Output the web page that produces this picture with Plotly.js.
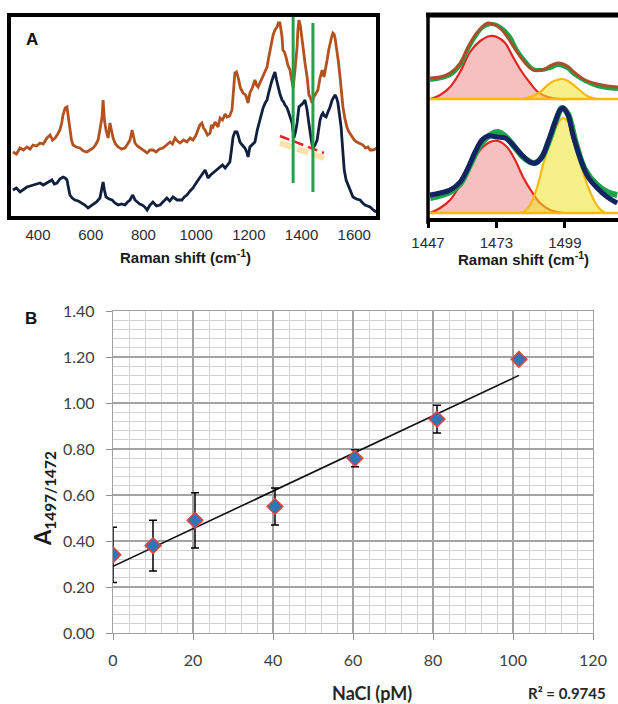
<!DOCTYPE html>
<html>
<head>
<meta charset="utf-8">
<script src="https://cdn.plot.ly/plotly-3.0.1.min.js"></script>
<style>
  html, body { margin: 0; padding: 0; background: #ffffff; }
  #chart { width: 618px; height: 704px; }
</style>
</head>
<body>
<div id="chart"></div>
<script>
// ---------------- DATA ----------------
// Panel A (left): Raman spectra, x = Raman shift (cm-1), y = intensity (a.u.)
const specTopX = [305,318,332,345,358,370,381,395,408,420,434,446,455,465,475,483,490,495,503,510,515,521,527,533,545,559,572,586,597,609,618,628,636,643,647,652,658,662,666,673,678,685,694,704,717,730,740,749,757,762,768,777,787,800,814,825,836,848,861,874,888,901,910,920,929,939,952,965,977,988,998,1007,1014,1022,1028,1034,1043,1053,1058,1064,1072,1083,1091,1100,1110,1117,1127,1136,1141,1147,1153,1159,1168,1178,1188,1197,1204,1213,1223,1229,1235,1244,1254,1262,1269,1275,1280,1286,1292,1299,1307,1312,1318,1322,1326,1329,1335,1341,1348,1356,1364,1368,1375,1383,1386,1390,1395,1402,1408,1413,1421,1428,1434,1440,1446,1451,1457,1462,1470,1478,1485,1492,1497,1503,1508,1514,1519,1523,1527,1534,1540,1546,1551,1557,1564,1572,1580,1592,1600,1610,1620,1633,1642,1652,1660,1671,1680,1686];
const specTopY = [68,66,72,70,73,71,75,74,77,76,82,85,80,82,86,90,97,105,112,113,103,93,80,75,73,72,69,68,70,72,75,80,92,103,120,100,90,86,82,97,90,82,76,73,71,72,76,80,90,84,77,74,72,69,67,70,70,68,71,72,75,78,76,82,79,77,80,78,82,80,84,90,95,97,92,90,85,87,95,93,98,93,102,100,106,103,104,110,125,147,148,143,132,127,125,117,127,132,140,135,133,138,143,148,153,162,170,178,185,190,193,197,197,190,183,170,168,163,155,150,137,132,150,173,190,200,195,183,168,157,143,125,122,117,123,125,128,130,142,150,143,152,160,170,177,183,187,186,182,170,158,143,128,113,102,93,88,83,80,78,77,75,72,73,70,70,71,72];
const specBotX = [305,318,332,345,358,370,381,395,408,420,434,445,453,462,472,483,495,503,510,515,521,530,540,553,567,578,590,600,609,622,635,641,647,652,658,670,681,692,704,717,730,740,749,755,760,768,776,786,795,805,814,825,836,850,863,876,889,900,912,928,946,955,965,977,988,1000,1015,1024,1034,1040,1045,1055,1064,1077,1091,1100,1110,1120,1128,1134,1140,1147,1155,1160,1166,1175,1185,1192,1197,1204,1213,1223,1232,1242,1248,1254,1262,1269,1275,1280,1286,1292,1299,1305,1311,1318,1326,1332,1337,1343,1348,1356,1364,1371,1377,1383,1390,1398,1406,1413,1417,1421,1427,1432,1438,1443,1451,1459,1464,1470,1476,1481,1487,1493,1500,1508,1516,1522,1527,1533,1538,1544,1550,1554,1557,1562,1569,1576,1584,1590,1595,1608,1622,1632,1641,1650,1660,1672,1683];
const specBotY = [30,32,28,31,33,34,35,36,37,35,37,39,40,36,37,41,43,42,40,33,25,22,20,19,17,15,12,14,15,18,22,30,38,30,23,21,20,17,15,16,15,18,20,23,25,20,18,16,15,13,10,15,18,14,15,19,22,19,23,20,20,23,25,29,32,37,43,47,50,46,42,45,47,50,53,55,52,55,58,70,83,88,88,84,78,75,72,68,63,73,75,78,90,100,106,112,117,120,127,133,138,143,148,140,133,126,120,118,115,113,110,104,97,82,88,97,113,115,117,120,116,110,98,87,78,72,75,80,92,100,105,107,104,103,108,113,120,123,125,122,117,105,93,78,63,50,40,35,30,26,23,21,20,17,15,14,13,10,8];
// Marker lines in panel A
const bandX = [1368, 1443];
const bandYLow = [37, 28];
const bandYHigh = [205, 197];
const dipLineX = [1318, 1485];
const dipLineY = [84, 67];
const dipGlowY = [77, 62];
const specTicks = [400, 600, 800, 1000, 1200, 1400, 1600];

// Panel A (right): band fitting, upper (orange spectrum) and lower (navy spectrum)
const fitTicks = [1447, 1473, 1499];
const upBase = 121;
const lowBase = 7;
const upDataX = [1447.8,1451.6,1455.4,1459.2,1462.2,1464.9,1467.5,1469.8,1472.5,1475.1,1477.4,1480.8,1483.9,1486.9,1490.3,1493.4,1496.4,1499.9,1502.9,1506.7,1511.3,1515.1,1519.2];
const upDataY = [142,143,147,157,173,185,193,197,195,190,182,168,157,150,150,154,157,154,147,140,136,134,133];
const upSumX = [1447.8,1455.4,1459.2,1462.2,1464.9,1467.5,1470.6,1473.2,1475.5,1478.2,1480.8,1483.9,1486.9,1490.3,1493.4,1496.4,1499.9,1502.9,1506.7,1511.3,1515.1,1519.2];
const upSumY = [140,145,155,171,183,192,196,195,191,183,170,159,151,150,152,155,152,145,139,134,132,131];
const upRedX = [1447.8,1451.6,1455.4,1459.2,1463.0,1466.8,1470.6,1473.2,1476.3,1479.3,1482.7,1485.8,1488.8,1492.6,1497.2,1500.5];
const upRedY = [121,125,133,148,168,179,184,183,177,163,148,137,128,123,121,121];
const upYelX = [1482.0,1485.8,1489.6,1493.4,1496.0,1497.9,1500.2,1503.7,1507.5,1511.3];
const upYelY = [121,123,128,137,140,141,139,132,124,121];
const lowDataX = [1447.8,1451.6,1455.4,1459.2,1462.2,1464.9,1467.5,1469.8,1473.2,1476.3,1479.3,1482.7,1485.8,1487.7,1490.3,1492.6,1495.3,1497.2,1498.3,1500.2,1502.1,1504.8,1507.8,1511.3,1515.1,1518.9];
const lowDataY = [25,27,30,38,52,68,80,84,83,82,75,65,58,57,63,78,98,110,112,105,85,62,43,32,23,17];
const lowSumX = [1447.8,1455.4,1459.2,1463.0,1466.8,1470.6,1473.6,1476.3,1479.3,1482.7,1485.8,1487.7,1490.3,1493.4,1495.7,1497.9,1500.2,1502.9,1506.7,1511.3,1515.1,1518.9];
const lowSumY = [22,28,36,55,75,85,88,84,75,64,58,57,63,82,100,112,106,80,50,35,28,25];
const lowRedX = [1447.8,1451.6,1455.4,1459.2,1463.0,1466.8,1470.6,1473.6,1477.0,1480.1,1483.1,1486.5,1489.6,1493.4,1498.3];
const lowRedY = [7,12,20,35,53,70,78,79,73,60,43,28,17,10,7];
const lowYelX = [1483.1,1485.8,1488.4,1490.7,1493.4,1496.0,1498.3,1501.0,1503.7,1505.9,1508.6,1511.6,1514.3];
const lowYelY = [7,15,32,55,78,95,102,95,72,48,28,13,7];

// Panel B: calibration
const naclX = [0, 10, 20.5, 40.5, 60.5, 81, 101.5];
const ratioY = [0.34, 0.38, 0.49, 0.55, 0.76, 0.93, 1.19];
const ratioErr = [0.12, 0.11, 0.12, 0.08, 0.037, 0.06, 0.005];
const fitLineX = [0, 101.5];
const fitLineY = [0.29, 1.12];
const rSquared = '0.9745';

// ---------------- LAYOUT HELPERS ----------------
const W = 618, H = 704;
const fx = p => p / W;
const fy = p => 1 - p / H;
const fitXMax = 1519.2;

const ORANGE = '#b4521f';
const NAVY = '#0f1f3d';
const GREEN = '#1fa34a';
const RED = '#e2231f';
const YEL = '#f7b90a';
const RED_FILL = 'rgba(238,130,130,0.5)';
const YEL_FILL = 'rgba(240,228,40,0.55)';

const traces = [];
// Left panel A
traces.push({x: specTopX, y: specTopY, xaxis: 'x', yaxis: 'y', mode: 'lines', line: {color: ORANGE, width: 2.8}, hoverinfo: 'skip'});
traces.push({x: specBotX, y: specBotY, xaxis: 'x', yaxis: 'y', mode: 'lines', line: {color: NAVY, width: 2.8}, hoverinfo: 'skip'});
traces.push({x: dipLineX, y: dipGlowY, xaxis: 'x', yaxis: 'y', mode: 'lines', line: {color: 'rgba(250,190,70,0.45)', width: 6, dash: '12px,6px'}, hoverinfo: 'skip'});
traces.push({x: dipLineX, y: dipLineY, xaxis: 'x', yaxis: 'y', mode: 'lines', line: {color: RED, width: 2.5, dash: '10px,5px'}, hoverinfo: 'skip'});
bandX.forEach((bx, i) => {
  traces.push({x: [bx, bx], y: [bandYLow[i], bandYHigh[i]], xaxis: 'x', yaxis: 'y', mode: 'lines', line: {color: GREEN, width: 3}, hoverinfo: 'skip'});
});

// Right panel A: fills
function fillPair(xs, ys, base, fillColor, lineColor) {
  traces.push({x: xs, y: xs.map(() => base), xaxis: 'x2', yaxis: 'y2', mode: 'lines', line: {width: 0, color: 'rgba(0,0,0,0)'}, hoverinfo: 'skip'});
  traces.push({x: xs, y: ys, xaxis: 'x2', yaxis: 'y2', mode: 'lines', fill: 'tonexty', fillcolor: fillColor, line: {color: lineColor, width: 2.2, shape: 'spline'}, hoverinfo: 'skip'});
}
fillPair(upRedX, upRedY, upBase, RED_FILL, RED);
fillPair(upYelX, upYelY, upBase, YEL_FILL, YEL);
fillPair(lowRedX, lowRedY, lowBase, RED_FILL, RED);
fillPair(lowYelX, lowYelY, lowBase, YEL_FILL, YEL);
traces.push({x: [fitTicks[0], fitXMax], y: [upBase, upBase], xaxis: 'x2', yaxis: 'y2', mode: 'lines', line: {color: YEL, width: 2.5}, hoverinfo: 'skip'});
traces.push({x: [fitTicks[0], fitXMax], y: [lowBase, lowBase], xaxis: 'x2', yaxis: 'y2', mode: 'lines', line: {color: YEL, width: 2.5}, hoverinfo: 'skip'});
// sums and data
traces.push({x: upSumX, y: upSumY, xaxis: 'x2', yaxis: 'y2', mode: 'lines', line: {color: GREEN, width: 4, shape: 'spline'}, hoverinfo: 'skip'});
traces.push({x: upDataX, y: upDataY, xaxis: 'x2', yaxis: 'y2', mode: 'lines', line: {color: '#a8502a', width: 3, shape: 'spline'}, hoverinfo: 'skip'});
traces.push({x: lowSumX, y: lowSumY, xaxis: 'x2', yaxis: 'y2', mode: 'lines', line: {color: GREEN, width: 6, shape: 'spline'}, hoverinfo: 'skip'});
traces.push({x: lowDataX, y: lowDataY, xaxis: 'x2', yaxis: 'y2', mode: 'lines', line: {color: '#142463', width: 5, shape: 'spline'}, hoverinfo: 'skip'});

// Panel B
traces.push({x: fitLineX, y: fitLineY, xaxis: 'x3', yaxis: 'y3', mode: 'lines', line: {color: '#111', width: 1.6}, hoverinfo: 'skip'});
traces.push({x: naclX, y: ratioY, xaxis: 'x3', yaxis: 'y3', mode: 'markers',
  error_y: {type: 'data', array: ratioErr, visible: true, color: '#000', thickness: 1.5, width: 4},
  marker: {symbol: 'diamond', size: 12, color: '#2f76b8', line: {color: '#e8403a', width: 1.5}}, hoverinfo: 'skip'});

const tickFontA = {family: 'Liberation Sans, Arial, sans-serif', size: 15, color: '#2b2b36'};
const tickFontB = {family: 'Lato, sans-serif', size: 16, color: '#404040'};

const layout = {
  width: W, height: H,
  margin: {l: 0, r: 0, t: 0, b: 0},
  paper_bgcolor: '#fff', plot_bgcolor: 'rgba(0,0,0,0)',
  showlegend: false,
  xaxis: {domain: [fx(9), fx(378)], range: [290, 1690], anchor: 'y', showgrid: false, zeroline: false, showline: false,
          ticks: '', tickvals: specTicks, tickfont: tickFontA, ticklabelstandoff: 6},
  yaxis: {domain: [fy(218), fy(15)], range: [2, 205], anchor: 'x', visible: false},
  xaxis2: {domain: [fx(428), 1], range: [fitTicks[0], fitXMax], anchor: 'y2', showgrid: false, zeroline: false,
           showline: true, linewidth: 3.5, linecolor: '#000', ticks: 'outside', ticklen: 6, tickwidth: 3, tickcolor: '#000',
           tickvals: fitTicks, tickfont: tickFontA, ticklabelstandoff: 2},
  yaxis2: {domain: [fy(218), fy(15)], range: [2, 205], anchor: 'x2', visible: false},
  xaxis3: {domain: [fx(113), fx(593)], range: [0, 120], anchor: 'y3', dtick: 20, tick0: 0,
           showgrid: true, gridcolor: '#a3a3a3', gridwidth: 1.3,
           minor: {dtick: 4, showgrid: true, gridcolor: '#d2d2d2', gridwidth: 1},
           zeroline: false, showline: true, linecolor: '#a0a0a0', linewidth: 1.3, mirror: true,
           ticks: 'outside', ticklen: 6, tickcolor: '#909090', tickfont: tickFontB, ticklabelstandoff: 6},
  yaxis3: {domain: [fy(633), fy(311)], range: [0, 1.4], anchor: 'x3', dtick: 0.2, tick0: 0, tickformat: '.2f',
           showgrid: true, gridcolor: '#a3a3a3', gridwidth: 1.3,
           minor: {dtick: 0.04, showgrid: true, gridcolor: '#d2d2d2', gridwidth: 1},
           zeroline: false, showline: true, linecolor: '#a0a0a0', linewidth: 1.3, mirror: true,
           ticks: 'outside', ticklen: 6, tickcolor: '#909090', tickfont: tickFontB, ticklabelstandoff: 8},
  shapes: [
    {type: 'rect', xref: 'paper', yref: 'paper', x0: fx(9), x1: fx(378), y0: fy(218), y1: fy(15), line: {color: '#000', width: 4}},
    {type: 'line', xref: 'paper', yref: 'paper', x0: fx(426), x1: fx(622), y0: fy(15), y1: fy(15), line: {color: '#000', width: 5}},
    {type: 'line', xref: 'paper', yref: 'paper', x0: fx(428), x1: fx(428), y0: fy(224), y1: fy(13), line: {color: '#000', width: 3.5}}
  ],
  annotations: [
    {text: '<b>A</b>', xref: 'paper', yref: 'paper', x: fx(32), y: fy(40), showarrow: false, xanchor: 'center', yanchor: 'middle',
     font: {family: 'Liberation Sans, Arial, sans-serif', size: 17, color: '#111'}},
    {text: '<b>Raman shift (cm<sup>-1</sup>)</b>', xref: 'paper', yref: 'paper', x: fx(185), y: fy(257), showarrow: false, xanchor: 'center', yanchor: 'middle',
     font: {family: 'Liberation Sans, Arial, sans-serif', size: 15, color: '#1a1a22'}},
    {text: '<b>Raman shift (cm<sup>-1</sup>)</b>', xref: 'paper', yref: 'paper', x: fx(523), y: fy(258), showarrow: false, xanchor: 'center', yanchor: 'middle',
     font: {family: 'Liberation Sans, Arial, sans-serif', size: 15, color: '#1a1a22'}},
    {text: '<b>B</b>', xref: 'paper', yref: 'paper', x: fx(31), y: fy(318), showarrow: false, xanchor: 'center', yanchor: 'middle',
     font: {family: 'Liberation Sans, Arial, sans-serif', size: 17, color: '#111'}},
    {text: '<b>A<sub>1497/1472</sub></b>', xref: 'paper', yref: 'paper', x: fx(44), y: fy(499), showarrow: false, textangle: -90,
     xanchor: 'center', yanchor: 'middle', font: {family: 'Lato, sans-serif', size: 22, color: '#1a1a1a'}},
    {text: '<b>NaCl (pM)</b>', xref: 'paper', yref: 'paper', x: fx(372), y: fy(693), showarrow: false, xanchor: 'center', yanchor: 'middle',
     font: {family: 'Lato, sans-serif', size: 18, color: '#262626'}},
    {text: '<b>R² = ' + rSquared + '</b>', xref: 'paper', yref: 'paper', x: fx(567), y: fy(693), showarrow: false, xanchor: 'center', yanchor: 'middle',
     font: {family: 'Lato, sans-serif', size: 15, color: '#262626'}}
  ]
};

Plotly.newPlot('chart', traces, layout, {staticPlot: true, displayModeBar: false});
</script>
</body>
</html>
